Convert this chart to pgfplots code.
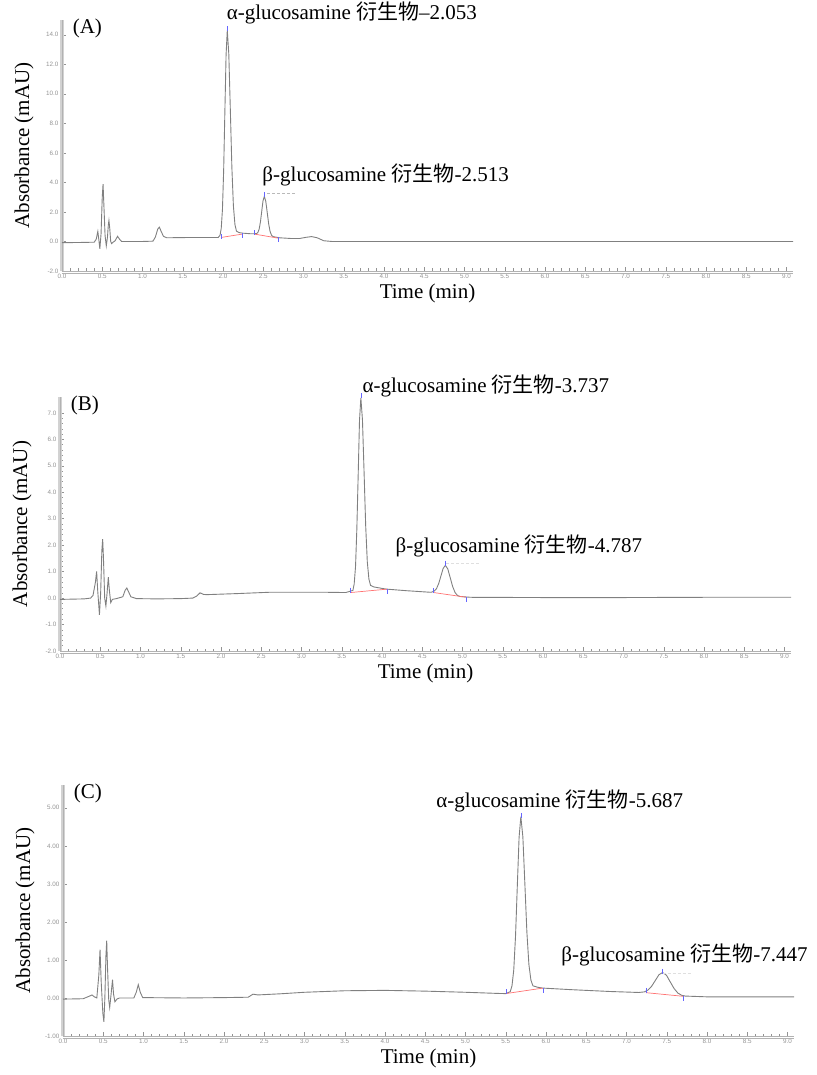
\documentclass[border=0pt]{standalone}
\usepackage{fontspec}
\setmainfont{Liberation Serif}
\setsansfont{Liberation Sans}
\newfontfamily\cjk{Noto Sans CJK SC}
\usepackage{pgfplots}
\pgfplotsset{compat=1.18}

\newcommand\ann{\fontsize{21}{24}\selectfont}

\pgfplotsset{
  chrom/.style={
    scale only axis, width=731pt,
    xmin=0, xmax=9.08,
    axis x line*=bottom, axis y line*=left,
    axis line style={draw=none},
    xtick={0,0.5,...,9}, minor x tick num=4,
    minor y tick num=4,
    tick style={gray!85, line width=0.5pt},
    tick align=inside,
    major tick length=4pt, minor tick length=2.5pt,
    ticklabel style={font=\sffamily\fontsize{6.3}{7}\selectfont, text=gray!85},
    /pgf/number format/assume math mode=true,
    xticklabel style={/pgf/number format/.cd, fixed, fixed zerofill, precision=1},
    xlabel={Time (min)}, ylabel={Absorbance (mAU)},
    label style={font=\ann},
    xlabel style={at={(axis description cs:0.5,0)}, anchor=north, inner sep=0pt, yshift=-13pt},
    ylabel style={at={(axis description cs:0,0.5)}, anchor=center, inner sep=0pt, yshift=38pt},
    clip=false,
  },
  trace/.style={black!50, line width=0.9pt},
  intg/.style={red!55, line width=0.7pt},
  mk/.style={only marks, mark=|, mark size=2.5pt, blue!60, mark options={line width=0.5pt}},
}
% frame lines of one panel: a grey bar on the left, a double line at the bottom
\newcommand\panelframe{%
  \draw[gray!35, line width=3.2pt] (rel axis cs:0,0) -- (rel axis cs:0,1);
  \draw[gray!60, line width=0.5pt] (rel axis cs:0,0) -- (rel axis cs:0,1);
  \draw[gray!60, line width=0.6pt] (rel axis cs:0,0) -- (rel axis cs:1,0);
  \draw[gray!60, line width=0.6pt] ([yshift=-2.6pt]rel axis cs:0,0) -- ([yshift=-2.6pt]rel axis cs:1,0);
}

\begin{document}
\begin{tikzpicture}
% ---------------- (A) ----------------
\begin{axis}[chrom, at={(0pt,0pt)}, height=251pt, ymin=-2, ymax=15,
  ytick={-2,0,...,14},
  yticklabel style={/pgf/number format/.cd, fixed, fixed zerofill, precision=1}]
\panelframe
\addplot[trace] coordinates {
(0,-0.08) (0.2,-0.07) (0.40,-0.05) (0.425,0.15) (0.445,0.68) (0.458,0.1) (0.47,-0.5)
(0.485,0.5) (0.50,3.0) (0.51,3.89) (0.52,2.5) (0.535,0.4) (0.55,-0.3) (0.565,0.3)
(0.575,1.1) (0.583,1.42) (0.593,0.9) (0.605,0.0) (0.617,-0.15) (0.635,-0.05) (0.66,0.05)
(0.69,0.35) (0.715,0.15) (0.74,0.0) (1.0,0.0) (1.13,0.02) (1.16,0.3) (1.19,0.85)
(1.21,0.97) (1.23,0.7) (1.26,0.35) (1.3,0.25) (1.6,0.27) (1.94,0.27)
(1.963,0.42) (1.978,0.89) (1.993,2.17) (2.008,4.82) (2.023,8.77) (2.038,12.63) (2.053,14.3)
(2.072,12.68) (2.091,8.9) (2.110,5.02) (2.129,2.41) (2.148,1.15) (2.167,0.70) (2.2,0.6)
(2.25,0.56) (2.35,0.52) (2.417,0.53) (2.433,0.61) (2.449,0.84) (2.465,1.33) (2.481,2.05)
(2.497,2.75) (2.513,3.05) (2.531,2.73) (2.549,1.97) (2.567,1.19) (2.585,0.67) (2.603,0.42)
(2.621,0.33) (2.7,0.25) (2.85,0.2) (2.95,0.2) (3.03,0.28) (3.1,0.33) (3.17,0.25)
(3.25,0.05) (3.35,0.0) (5.0,0.0) (7.0,0.0) (9.08,0.0)};
\addplot[intg] coordinates {(1.975,0.27) (2.24,0.50)};
\addplot[intg] coordinates {(2.39,0.50) (2.69,0.22)};
\addplot[gray!55, densely dashed, line width=0.5pt] coordinates {(2.55,3.24) (2.92,3.24)};
\addplot[mk] coordinates {(1.975,0.35) (2.24,0.42) (2.39,0.58) (2.69,0.14) (2.053,14.4) (2.513,3.15)};
\node[font=\ann, anchor=west] at (axis description cs:0.01,0.965) {(A)};
\node[font=\ann] at (axis cs:3.6,15.45) {α-glucosamine {\cjk 衍生物}–2.053};
\node[font=\ann] at (axis cs:4.02,4.52) {β-glucosamine {\cjk 衍生物}-2.513};
\end{axis}

% ---------------- (B) ----------------
\begin{axis}[chrom, at={(-2pt,-380pt)}, height=254pt, ymin=-2, ymax=7.6,
  ytick={-2,-1,...,7},
  yticklabel style={/pgf/number format/.cd, fixed, fixed zerofill, precision=1}]
\panelframe
\addplot[trace] coordinates {
(0,-0.05) (0.3,-0.03) (0.38,0.0) (0.41,0.1) (0.44,0.6) (0.455,1.01) (0.468,0.3)
(0.49,-0.63) (0.505,0.2) (0.52,1.8) (0.53,2.23) (0.54,1.5) (0.555,0.0) (0.57,-0.3)
(0.585,0.2) (0.6,0.79) (0.613,0.3) (0.63,-0.17) (0.65,-0.05) (0.7,-0.02) (0.78,0.05)
(0.81,0.3) (0.83,0.38) (0.85,0.25) (0.88,0.05) (0.95,-0.02) (1.2,-0.03) (1.5,-0.02)
(1.65,0.0) (1.70,0.08) (1.74,0.2) (1.78,0.14) (1.82,0.13) (2.2,0.17) (2.6,0.22)
(3.0,0.22) (3.3,0.22) (3.55,0.21)
(3.638,0.29) (3.654,0.53) (3.671,1.20) (3.687,2.60) (3.704,4.68) (3.720,6.71) (3.737,7.57)
(3.757,6.73) (3.777,4.75) (3.797,2.73) (3.817,1.37) (3.837,0.72) (3.857,0.48) (3.9,0.42)
(4.05,0.34) (4.3,0.28) (4.6,0.22)
(4.622,0.23) (4.649,0.265) (4.677,0.36) (4.704,0.55) (4.732,0.84) (4.759,1.12) (4.787,1.24)
(4.817,1.10) (4.847,0.77) (4.877,0.44) (4.907,0.21) (4.937,0.10) (4.967,0.06) (5.1,0.03)
(6.0,0.02) (7.0,0.02) (8.0,0.03) (9.08,0.03)};
\addplot[intg] coordinates {(3.61,0.21) (4.07,0.34)};
\addplot[intg] coordinates {(4.64,0.21) (5.05,0.03)};
\addplot[gray!25, densely dashed, line width=0.5pt] coordinates {(4.80,1.30) (5.22,1.30)};
\addplot[mk] coordinates {(3.61,0.3) (4.07,0.26) (4.64,0.29) (5.05,-0.05) (3.737,7.65) (4.787,1.32)};
\node[font=\ann, anchor=west] at (axis description cs:0.01,0.965) {(B)};
\node[font=\ann] at (axis cs:5.29,8.0) {α-glucosamine {\cjk 衍生物}-3.737};
\node[font=\ann] at (axis cs:5.70,1.98) {β-glucosamine {\cjk 衍生物}-4.787};
\end{axis}

% ---------------- (C) ----------------
\begin{axis}[chrom, at={(1pt,-765pt)}, height=251pt, ymin=-1, ymax=5.6,
  ytick={-1,0,...,5},
  yticklabel style={/pgf/number format/.cd, fixed, fixed zerofill, precision=2}]
\panelframe
\addplot[trace] coordinates {
(0,-0.03) (0.25,-0.02) (0.33,0.05) (0.36,0.08) (0.39,0.03) (0.42,0.0) (0.445,0.6)
(0.46,1.27) (0.475,0.4) (0.495,-0.4) (0.508,-0.63) (0.52,0.0) (0.533,1.1) (0.543,1.51)
(0.553,0.8) (0.568,-0.05) (0.58,-0.25) (0.595,0.05) (0.615,0.48) (0.628,0.1) (0.645,-0.1)
(0.67,-0.03) (0.7,0.0) (0.88,0.0) (0.91,0.15) (0.935,0.35) (0.96,0.15) (0.99,0.01)
(1.5,0.0) (2.0,0.01) (2.3,0.02) (2.36,0.1) (2.42,0.08) (2.7,0.11) (3.0,0.15) (3.5,0.19)
(4.0,0.2) (4.5,0.18) (5.0,0.15) (5.4,0.12) (5.5,0.115)
(5.555,0.165) (5.577,0.32) (5.599,0.74) (5.621,1.63) (5.643,2.94) (5.665,4.22) (5.687,4.77)
(5.712,4.24) (5.737,3.0) (5.762,1.73) (5.787,0.88) (5.812,0.47) (5.837,0.32) (5.9,0.28)
(5.96,0.26) (6.3,0.22) (6.8,0.17) (7.15,0.145)
(7.222,0.16) (7.267,0.21) (7.312,0.31) (7.357,0.46) (7.402,0.61) (7.447,0.67) (7.495,0.60)
(7.542,0.425) (7.59,0.25) (7.637,0.13) (7.685,0.07) (7.73,0.05) (8.0,0.03) (8.5,0.03)
(9.08,0.03)};
\addplot[intg] coordinates {(5.50,0.115) (5.96,0.26)};
\addplot[intg] coordinates {(7.24,0.14) (7.70,0.045)};
\addplot[gray!25, densely dashed, line width=0.5pt] coordinates {(7.45,0.64) (7.82,0.64)};
\addplot[mk] coordinates {(5.50,0.17) (5.96,0.2) (7.24,0.2) (7.70,-0.01) (5.687,4.8) (7.447,0.7)};
\node[font=\ann, anchor=west] at (axis description cs:0.01,0.965) {(C)};
\node[font=\ann] at (axis cs:6.17,5.19) {α-glucosamine {\cjk 衍生物}-5.687};
\node[font=\ann] at (axis cs:7.72,1.12) {β-glucosamine {\cjk 衍生物}-7.447};
\end{axis}

\pgfresetboundingbox
\path[use as bounding box] (-62pt,271pt) rectangle (754pt,-804pt);
\end{tikzpicture}
\end{document}
